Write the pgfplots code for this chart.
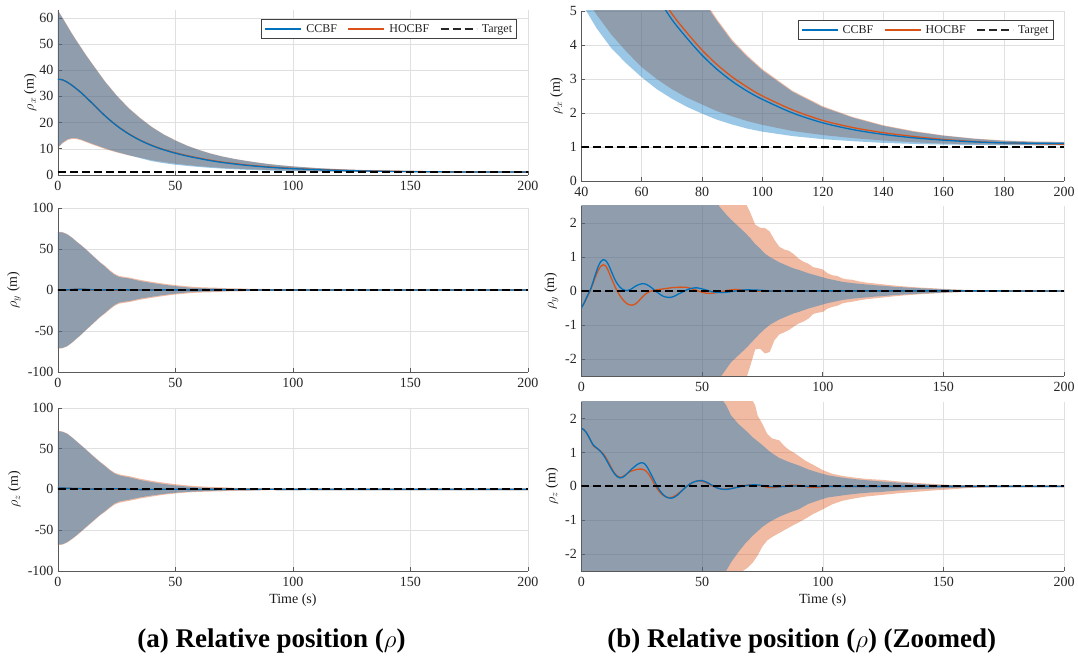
\documentclass[border=0pt]{standalone}
\usepackage{fontspec}
\setmainfont{Liberation Serif}
\usepackage{pgfplots}
\pgfplotsset{compat=1.18}
\usepackage{pgfplotstable}
\usepgfplotslibrary{fillbetween}

\definecolor{mblue}{rgb}{0,0.447,0.741}
\definecolor{morange}{rgb}{0.85,0.325,0.098}

\newcommand{\tickfont}{\fontsize{14}{14}\selectfont}
\newcommand{\labfont}{\fontsize{14}{14}\selectfont}

% ---------- rho_x ----------
\pgfplotstableread{
t cu hu cl hl
0 62.7 62.9 10.5 10.3
2 59.8 60.0 12.4 12.1
4 56.8 57.0 13.6 13.3
6 53.8 54.0 14.1 13.8
8 51.0 51.2 14.0 13.7
10 48.3 48.5 13.5 13.2
12 45.6 45.8 12.8 12.5
15 41.8 42.0 11.8 11.5
20 35.6 35.8 10.2 9.9
25 30.2 30.4 8.8 8.6
30 25.5 25.7 7.6 7.5
35 21.6 21.8 6.4 6.6
40 18.2 18.35 5.25 5.6
45 15.4 15.55 4.5 4.9
50 13.1 13.25 3.9 4.3
55 11.1 11.22 3.45 3.8
60 9.5 9.6 3.05 3.35
65 8.1 8.2 2.7 3.0
70 7.0 7.08 2.42 2.7
75 6.1 6.17 2.18 2.45
80 5.35 5.41 1.98 2.25
85 4.7 4.75 1.8 2.05
90 4.1 4.15 1.66 1.9
95 3.65 3.69 1.54 1.76
100 3.25 3.29 1.45 1.65
110 2.62 2.65 1.32 1.47
120 2.17 2.2 1.23 1.35
130 1.86 1.88 1.17 1.26
140 1.62 1.64 1.12 1.19
150 1.45 1.47 1.09 1.14
160 1.33 1.34 1.07 1.1
170 1.24 1.25 1.06 1.08
180 1.18 1.19 1.055 1.07
190 1.15 1.16 1.05 1.06
200 1.14 1.15 1.05 1.06
}\xband

\pgfplotstableread{
t c h
0 36.6 36.6
2 36.3 36.3
4 35.4 35.4
6 34.2 34.2
8 32.8 32.8
10 31.3 31.3
12 29.6 29.6
15 27.0 27.0
20 22.6 22.6
25 18.8 18.85
30 15.7 15.8
35 13.2 13.3
40 11.2 11.3
45 9.6 9.72
50 8.3 8.45
55 7.2 7.38
60 6.3 6.45
65 5.45 5.62
70 4.75 4.92
75 4.2 4.36
80 3.7 3.85
85 3.28 3.42
90 2.93 3.06
95 2.64 2.76
100 2.4 2.5
110 2.0 2.09
120 1.71 1.78
130 1.51 1.57
140 1.37 1.42
150 1.27 1.31
160 1.2 1.22
170 1.15 1.16
180 1.12 1.12
190 1.11 1.10
200 1.10 1.08
}\xline

% ---------- rho_y ----------
\pgfplotstableread{
t up lo
0 70.5 -71.3
2 70.0 -70.6
4 67.5 -68.3
6 63.5 -64.0
8 58.5 -59.0
10 54.0 -54.0
12 49.0 -48.5
15 41.0 -40.5
18 33.0 -32.5
20 28.5 -28.0
22 23.0 -23.0
24 18.5 -18.5
26 15.8 -15.5
28 14.8 -14.5
30 14.0 -13.8
32 12.8 -12.6
35 10.8 -10.6
40 8.4 -8.3
45 6.3 -6.2
50 4.6 -4.5
55 3.1 -3.1
57 2.5 -2.6
60 2.25 -2.3
62 2.1 -2.1
65 1.9 -1.9
68 1.7 -1.7
70 1.55 -1.55
72 1.38 -1.4
74 1.25 -1.25
76 1.1 -1.12
78 1.0 -1.0
80 0.92 -0.92
82 0.84 -0.84
84 0.78 -0.78
86 0.72 -0.72
88 0.66 -0.66
90 0.62 -0.62
92 0.57 -0.57
94 0.52 -0.52
96 0.48 -0.48
98 0.44 -0.44
100 0.4 -0.4
102 0.36 -0.36
104 0.33 -0.33
106 0.3 -0.3
108 0.27 -0.27
110 0.25 -0.25
112 0.23 -0.23
115 0.21 -0.21
118 0.19 -0.19
122 0.165 -0.165
126 0.145 -0.145
130 0.12 -0.12
135 0.1 -0.1
140 0.08 -0.08
145 0.065 -0.065
150 0.05 -0.05
155 0.035 -0.035
160 0.02 -0.02
170 0.01 -0.01
180 0.005 -0.005
190 0.002 -0.002
200 0.001 -0.001
}\yC

\pgfplotstableread{
t up lo
0 71.0 -71.8
2 70.5 -71.1
4 68.0 -68.8
6 64.0 -64.5
8 59.0 -59.5
10 54.5 -54.5
12 49.5 -49.0
15 41.6 -41.1
18 33.8 -33.3
20 29.4 -28.9
22 24.2 -24.0
24 19.8 -19.6
26 17.0 -16.8
28 16.0 -15.8
30 15.2 -15.0
32 14.0 -13.8
35 12.2 -12.0
40 9.8 -9.6
45 7.6 -7.4
50 5.8 -5.6
55 4.4 -4.3
58 3.7 -3.6
60 3.35 -3.3
62 3.1 -3.05
65 2.85 -2.85
68 2.6 -2.65
70 2.3 -2.2
72 1.95 -1.72
74 1.86 -1.7
76 1.85 -1.84
78 1.75 -1.8
80 1.5 -1.45
82 1.3 -1.28
84 1.22 -1.22
86 1.18 -1.15
88 1.08 -1.05
90 0.95 -0.96
92 0.86 -0.9
94 0.8 -0.82
96 0.7 -0.68
98 0.67 -0.64
100 0.63 -0.62
102 0.52 -0.52
104 0.46 -0.47
106 0.44 -0.44
108 0.37 -0.37
110 0.34 -0.34
112 0.33 -0.32
115 0.28 -0.28
118 0.245 -0.245
122 0.215 -0.215
126 0.185 -0.185
130 0.155 -0.155
135 0.125 -0.125
140 0.1 -0.1
145 0.08 -0.08
150 0.06 -0.06
155 0.042 -0.042
160 0.028 -0.028
170 0.012 -0.012
180 0.006 -0.006
190 0.003 -0.003
200 0.001 -0.001
}\yH

\pgfplotstableread{
t c h
0 -0.5 -0.5
1 -0.38 -0.38
2 -0.22 -0.24
3 -0.07 -0.1
4 0.08 0.06
5 0.3 0.25
6 0.52 0.44
7 0.72 0.6
8 0.86 0.72
9 0.92 0.77
10 0.9 0.74
11 0.8 0.62
12 0.65 0.45
13 0.48 0.28
14 0.32 0.12
15 0.2 -0.02
16 0.11 -0.14
17 0.05 -0.24
18 0.02 -0.32
19 0.01 -0.38
20 0.03 -0.41
21 0.07 -0.42
22 0.12 -0.4
23 0.16 -0.35
24 0.19 -0.28
25 0.21 -0.2
26 0.21 -0.13
27 0.19 -0.07
28 0.15 -0.03
29 0.1 0.0
30 0.04 0.02
31 -0.02 0.03
32 -0.07 0.04
33 -0.12 0.05
34 -0.16 0.06
35 -0.18 0.07
36 -0.19 0.08
37 -0.19 0.09
38 -0.17 0.1
39 -0.14 0.1
40 -0.1 0.11
42 -0.03 0.11
44 0.04 0.1
46 0.08 0.06
48 0.09 0.01
50 0.06 -0.04
52 0.02 -0.07
54 -0.02 -0.07
56 -0.04 -0.05
58 -0.05 -0.02
60 -0.04 0.01
62 -0.02 0.03
64 0.0 0.04
66 0.02 0.03
68 0.03 0.02
70 0.03 0.0
74 0.02 -0.01
78 0.0 -0.01
82 -0.01 0.0
90 0.0 0.0
200 0 0
}\yline

% ---------- rho_z ----------
\pgfplotstableread{
t up lo
0 71.5 -67.8
2 70.5 -67.2
4 68.0 -64.5
6 63.5 -60.5
8 58.5 -56
10 53.5 -51
12 48.5 -46
15 40.5 -38.5
18 33.0 -31
20 28.5 -26.8
22 23.5 -22
24 19.5 -17.5
26 17.2 -15
28 16.0 -13.8
30 15.0 -12.8
32 13.6 -11.6
35 11.5 -9.8
40 8.8 -7.5
45 6.6 -5.6
50 4.8 -4.1
55 3.4 -3.1
59 2.5 -2.6
60 2.4 -2.5
62 2.1 -2.25
65 1.85 -1.95
68 1.66 -1.68
71 1.45 -1.46
75 1.22 -1.2
78 1.03 -1.05
82 0.84 -0.9
86 0.72 -0.78
90 0.62 -0.68
94 0.5 -0.52
98 0.41 -0.42
102 0.33 -0.33
106 0.28 -0.29
110 0.24 -0.25
115 0.2 -0.21
120 0.17 -0.18
125 0.14 -0.16
130 0.115 -0.13
139 0.075 -0.09
146 0.05 -0.065
153 0.032 -0.045
160 0.02 -0.03
170 0.01 -0.015
180 0.005 -0.007
200 0.001 -0.001
}\zC

\pgfplotstableread{
t up lo
0 72.0 -68.5
2 71.0 -67.8
4 68.5 -65.2
6 64.0 -61.2
8 59.0 -56.7
10 54.0 -51.8
12 49.0 -46.8
15 41.2 -39.3
18 33.8 -31.8
20 29.4 -27.7
22 24.5 -23.0
24 20.6 -18.8
26 18.4 -16.5
28 17.3 -15.3
30 16.4 -14.3
32 15.1 -13.1
35 13.0 -11.2
40 10.4 -8.8
45 8.2 -6.6
50 6.3 -5.0
55 4.8 -3.8
60 3.7 -3.1
64 3.15 -2.75
67 2.85 -2.5
69 2.68 -2.4
71 2.52 -2.26
72 2.4 -2.15
73 2.1 -2.05
75 1.85 -1.78
77 1.55 -1.6
79 1.42 -1.5
82 1.36 -1.38
84 1.2 -1.3
86 1.08 -1.22
88 1.0 -1.14
90 0.9 -1.07
93 0.75 -0.95
96 0.64 -0.82
100 0.48 -0.68
104 0.37 -0.53
108 0.31 -0.43
112 0.27 -0.37
118 0.22 -0.3
125 0.19 -0.25
132 0.14 -0.2
139 0.1 -0.16
146 0.07 -0.12
153 0.04 -0.09
160 0.025 -0.05
170 0.012 -0.025
180 0.006 -0.01
190 0.003 -0.004
200 0.001 -0.001
}\zH

\pgfplotstableread{
t c h
0 1.72 1.72
1 1.68 1.68
2 1.6 1.6
3 1.48 1.47
4 1.34 1.33
5 1.22 1.2
6 1.16 1.14
7 1.1 1.1
8 1.03 1.04
9 0.94 0.97
10 0.83 0.87
11 0.7 0.75
12 0.57 0.61
13 0.45 0.48
14 0.35 0.37
15 0.28 0.3
16 0.25 0.27
17 0.26 0.28
18 0.31 0.33
19 0.38 0.38
20 0.45 0.43
21 0.52 0.46
22 0.58 0.48
23 0.64 0.5
24 0.68 0.51
25 0.7 0.51
26 0.68 0.49
27 0.6 0.44
28 0.48 0.35
29 0.34 0.23
30 0.2 0.1
31 0.06 -0.02
32 -0.07 -0.13
33 -0.17 -0.21
34 -0.25 -0.27
35 -0.31 -0.31
36 -0.34 -0.33
37 -0.35 -0.33
38 -0.34 -0.31
39 -0.3 -0.27
40 -0.25 -0.22
41 -0.18 -0.16
42 -0.11 -0.1
43 -0.04 -0.03
44 0.02 0.02
45 0.07 0.07
46 0.11 0.11
47 0.14 0.14
48 0.16 0.16
49 0.17 0.16
50 0.17 0.15
51 0.15 0.13
52 0.12 0.1
53 0.08 0.06
54 0.04 0.02
55 0.0 -0.01
56 -0.04 -0.04
58 -0.08 -0.08
60 -0.09 -0.08
62 -0.07 -0.06
64 -0.04 -0.03
66 -0.01 0.0
68 0.02 0.03
70 0.04 0.04
72 0.045 0.035
74 0.035 0.02
76 0.015 -0.01
78 0.0 -0.03
80 -0.01 -0.03
82 -0.01 -0.01
85 0.0 0.02
88 0.01 0.035
91 0.01 0.02
94 0.0 -0.02
97 0.0 -0.03
100 0.0 -0.01
105 0.0 0.01
110 0 0
200 0 0
}\zline

\pgfplotsset{
  myaxis/.style={
    scale only axis,
    axis x line*=bottom, axis y line*=left,
    x axis line style={-}, y axis line style={-},
    axis line style={draw=black!65, line width=0.6pt},
    tick align=inside,
    major tick length=4pt,
    tick style={draw=black!65, line width=0.6pt},
    grid=major,
    major grid style={draw=black!12, line width=0.5pt},
    tick label style={font=\tickfont, text=black!85},
    xticklabel style={yshift=-3pt},
    yticklabel style={xshift=-1pt},
    label style={font=\labfont, text=black!90},
    /pgf/number format/assume math mode=true,
    clip=true,
    legend cell align=left,
    legend style={font=\fontsize{12}{12}\selectfont, draw=black!75, line width=0.5pt,
      at={(1,1)}, xshift=-11pt, yshift=-9.5pt, anchor=north east,
      inner xsep=3pt, inner ysep=3pt, nodes={inner sep=1.5pt, text=black!85},
      /tikz/every odd column/.append style={column sep=3pt},
      /tikz/every even column/.append style={column sep=9pt}},
    legend columns=3,
    legend image code/.code={\draw[##1] (0pt,0pt) -- (36pt,0pt);},
  },
  ccbfl/.style={draw=mblue, line width=1.3pt},
  hocbfl/.style={draw=morange, line width=1.3pt},
  targl/.style={draw=black, line width=1.8pt, dash pattern=on 8pt off 4pt},
}

\begin{document}
\begin{tikzpicture}
\path (0,0) rectangle (1078pt,657pt);

% ===== hidden warm-up axis (draws nothing visible) =====
\begin{axis}[hide axis, scale only axis, at={(0pt,0pt)}, anchor=south west, width=5pt, height=5pt,
  xmin=0, xmax=1, ymin=0, ymax=1]
\addplot[name path=da, draw=none, forget plot] coordinates {(0,0) (1,0)};
\addplot[name path=db, draw=none, forget plot] coordinates {(0,0.1) (1,0.1)};
\addplot[fill=white, fill opacity=0, draw=none, forget plot] fill between[of=da and db];
\end{axis}

% ===== Left top =====
\begin{axis}[myaxis, at={(58pt,482pt)}, anchor=south west, width=470pt, height=165pt,
  xmin=0, xmax=200, ymin=0, ymax=63, xtick={0,50,...,200}, ytick={0,10,...,60},
  ylabel={$\rho_x$ (m)}, ylabel shift=-4pt]
\addplot[name path=hu, draw=none, forget plot] table[x=t,y=hu]{\xband};
\addplot[name path=hl, draw=none, forget plot] table[x=t,y=hl]{\xband};
\addplot[name path=cu, draw=none, forget plot] table[x=t,y=cu]{\xband};
\addplot[name path=cl, draw=none, forget plot] table[x=t,y=cl]{\xband};
\addplot[fill=morange, fill opacity=0.4, draw=none, forget plot] fill between[of=hu and hl];
\addplot[fill=mblue, fill opacity=0.4, draw=none, forget plot] fill between[of=cu and cl];
\addplot[hocbfl, smooth, forget plot] table[x=t,y=h]{\xline};
\addplot[ccbfl, smooth, forget plot] table[x=t,y=c]{\xline};
\addplot[targl, forget plot] coordinates {(0,1) (200,1)};
\addlegendimage{draw=mblue, line width=1.3pt}\addlegendentry{CCBF}
\addlegendimage{draw=morange, line width=1.3pt}\addlegendentry{HOCBF}
\addlegendimage{draw=black!85, line width=1.5pt, dash pattern=on 8pt off 4pt}\addlegendentry{Target}
\end{axis}

% ===== Left middle =====
\begin{axis}[myaxis, at={(58pt,285pt)}, anchor=south west, width=470pt, height=164pt,
  xmin=0, xmax=200, ymin=-100, ymax=100, xtick={0,50,...,200}, ytick={-100,-50,0,50,100},
  yticklabels={-100,-50,0,50,100},
  ylabel={$\rho_y$ (m)}]
\addplot[name path=hu, draw=none, forget plot] table[x=t,y=up]{\yH};
\addplot[name path=hl, draw=none, forget plot] table[x=t,y=lo]{\yH};
\addplot[name path=cu, draw=none, forget plot] table[x=t,y=up]{\yC};
\addplot[name path=cl, draw=none, forget plot] table[x=t,y=lo]{\yC};
\addplot[fill=morange, fill opacity=0.4, draw=none, forget plot] fill between[of=hu and hl];
\addplot[fill=mblue, fill opacity=0.4, draw=none, forget plot] fill between[of=cu and cl];
\addplot[hocbfl, forget plot] table[x=t,y=h]{\yline};
\addplot[ccbfl, forget plot] table[x=t,y=c]{\yline};
\addplot[targl, forget plot] coordinates {(0,0) (200,0)};
\end{axis}

% ===== Left bottom =====
\begin{axis}[myaxis, at={(58pt,86pt)}, anchor=south west, width=470pt, height=163pt,
  xmin=0, xmax=200, ymin=-100, ymax=100, xtick={0,50,...,200}, ytick={-100,-50,0,50,100},
  yticklabels={-100,-50,0,50,100},
  ylabel={$\rho_z$ (m)}, xlabel={Time (s)}]
\addplot[name path=hu, draw=none, forget plot] table[x=t,y=up]{\zH};
\addplot[name path=hl, draw=none, forget plot] table[x=t,y=lo]{\zH};
\addplot[name path=cu, draw=none, forget plot] table[x=t,y=up]{\zC};
\addplot[name path=cl, draw=none, forget plot] table[x=t,y=lo]{\zC};
\addplot[fill=morange, fill opacity=0.4, draw=none, forget plot] fill between[of=hu and hl];
\addplot[fill=mblue, fill opacity=0.4, draw=none, forget plot] fill between[of=cu and cl];
\addplot[hocbfl, forget plot] table[x=t,y=h]{\zline};
\addplot[ccbfl, forget plot] table[x=t,y=c]{\zline};
\addplot[targl, forget plot] coordinates {(0,0) (200,0)};
\end{axis}

% ===== Right top =====
\begin{axis}[myaxis, at={(581.5pt,476pt)}, anchor=south west, width=483pt, height=170pt,
  xmin=40, xmax=200, ymin=0, ymax=5, xtick={40,60,...,200}, ytick={0,1,...,5},
  ylabel={$\rho_x$ (m)}]
\addplot[name path=hu, draw=none, forget plot] table[x=t,y=hu]{\xband};
\addplot[name path=hl, draw=none, forget plot] table[x=t,y=hl]{\xband};
\addplot[name path=cu, draw=none, forget plot] table[x=t,y=cu]{\xband};
\addplot[name path=cl, draw=none, forget plot] table[x=t,y=cl]{\xband};
\addplot[fill=morange, fill opacity=0.4, draw=none, forget plot] fill between[of=hu and hl];
\addplot[fill=mblue, fill opacity=0.4, draw=none, forget plot] fill between[of=cu and cl];
\addplot[hocbfl, smooth, forget plot] table[x=t,y=h]{\xline};
\addplot[ccbfl, smooth, forget plot] table[x=t,y=c]{\xline};
\addplot[targl, forget plot] coordinates {(0,1) (200,1)};
\addlegendimage{draw=mblue, line width=1.3pt}\addlegendentry{CCBF}
\addlegendimage{draw=morange, line width=1.3pt}\addlegendentry{HOCBF}
\addlegendimage{draw=black!85, line width=1.5pt, dash pattern=on 8pt off 4pt}\addlegendentry{Target}
\end{axis}

% ===== Right middle =====
\begin{axis}[myaxis, at={(581.5pt,281pt)}, anchor=south west, width=483pt, height=170pt,
  xmin=0, xmax=200, ymin=-2.5, ymax=2.5, xtick={0,50,...,200}, ytick={-2,-1,0,1,2},
  yticklabels={-2,-1,0,1,2},
  ylabel={$\rho_y$ (m)}]
\addplot[name path=hu, draw=none, forget plot] table[x=t,y=up]{\yH};
\addplot[name path=hl, draw=none, forget plot] table[x=t,y=lo]{\yH};
\addplot[name path=cu, draw=none, forget plot] table[x=t,y=up]{\yC};
\addplot[name path=cl, draw=none, forget plot] table[x=t,y=lo]{\yC};
\addplot[fill=morange, fill opacity=0.4, draw=none, forget plot] fill between[of=hu and hl];
\addplot[fill=mblue, fill opacity=0.4, draw=none, forget plot] fill between[of=cu and cl];
\addplot[hocbfl, smooth, forget plot] table[x=t,y=h]{\yline};
\addplot[ccbfl, smooth, forget plot] table[x=t,y=c]{\yline};
\addplot[targl, forget plot] coordinates {(0,0) (200,0)};
\end{axis}

% ===== Right bottom =====
\begin{axis}[myaxis, at={(581.5pt,86pt)}, anchor=south west, width=483pt, height=169pt,
  xmin=0, xmax=200, ymin=-2.5, ymax=2.5, xtick={0,50,...,200}, ytick={-2,-1,0,1,2},
  yticklabels={-2,-1,0,1,2},
  ylabel={$\rho_z$ (m)}, xlabel={Time (s)}]
\addplot[name path=hu, draw=none, forget plot] table[x=t,y=up]{\zH};
\addplot[name path=hl, draw=none, forget plot] table[x=t,y=lo]{\zH};
\addplot[name path=cu, draw=none, forget plot] table[x=t,y=up]{\zC};
\addplot[name path=cl, draw=none, forget plot] table[x=t,y=lo]{\zC};
\addplot[fill=morange, fill opacity=0.4, draw=none, forget plot] fill between[of=hu and hl];
\addplot[fill=mblue, fill opacity=0.4, draw=none, forget plot] fill between[of=cu and cl];
\addplot[hocbfl, smooth, forget plot] table[x=t,y=h]{\zline};
\addplot[ccbfl, smooth, forget plot] table[x=t,y=c]{\zline};
\addplot[targl, forget plot] coordinates {(0,0) (200,0)};
\end{axis}

\node[anchor=base, font=\bfseries\fontsize{27}{27}\selectfont] at (271.5pt,9pt) {(a) Relative position ($\rho$)};
\node[anchor=base, font=\bfseries\fontsize{27}{27}\selectfont] at (802pt,9pt) {(b) Relative position ($\rho$) (Zoomed)};
\end{tikzpicture}
\end{document}
